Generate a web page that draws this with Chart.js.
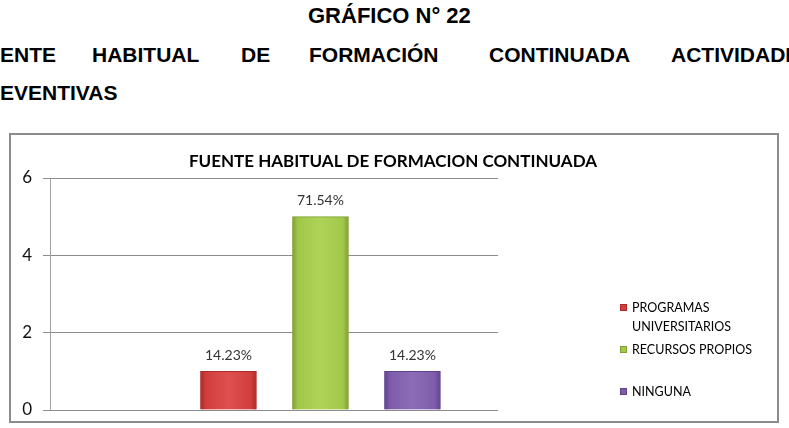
<!DOCTYPE html>
<html>
<head>
<meta charset="utf-8">
<script src="https://cdn.jsdelivr.net/npm/chart.js@4/dist/chart.umd.min.js"></script>
<style>
    html, body { margin: 0; padding: 0; background: #fff; }
    body { width: 789px; height: 428px; position: relative; overflow: hidden; }
    .hd { position: absolute; font-family: "Liberation Sans", Arial, sans-serif; font-weight: bold;
          font-size: 21px; line-height: 21px; color: #000; white-space: nowrap; }
    #box { position: absolute; left: 9px; top: 133px; width: 770px; height: 290px;
           border: 2px solid #8c8c8c; box-sizing: border-box; }
    #box canvas { display: block; }
</style>
</head>
<body>
<div class="hd" style="left:308px;top:5px;font-size:22px;line-height:22px">GRÁFICO N° 22</div>
<div class="hd" style="left:0;top:44px">ENTE</div>
<div class="hd" style="left:92px;top:44px">HABITUAL</div>
<div class="hd" style="left:241px;top:44px">DE</div>
<div class="hd" style="left:309px;top:44px">FORMACIÓN</div>
<div class="hd" style="left:489px;top:44px">CONTINUADA</div>
<div class="hd" style="left:671px;top:44px">ACTIVIDADES</div>
<div class="hd" style="left:0;top:82px">EVENTIVAS</div>

<div id="box"><canvas id="myChart" width="766" height="286"></canvas></div>

<script>
// Datos del gráfico
const categorias = ['PROGRAMAS UNIVERSITARIOS', 'RECURSOS PROPIOS', 'NINGUNA'];
const valores = [1, 5, 1];
const porcentajes = ['14.23%', '71.54%', '14.23%'];
const ticksY = [0, 2, 4, 6];
const tituloGrafico = 'FUENTE HABITUAL DE FORMACION CONTINUADA';

// Colores: base, borde oscuro, centro claro
const colores = [
    ['#d23d3d', '#a92b2b', '#df5050'],
    ['#a2c84a', '#7f9f33', '#aed358'],
    ['#7e5ca9', '#5f428b', '#8c6cb7']
];

const fuente = 'Lato, Carlito, Calibri, sans-serif';

// Degradado horizontal para simular el relieve de Excel
function degradado(i) {
    return function (ctx) {
        const chart = ctx.chart;
        const x = chart.scales && chart.scales.x;
        if (!x || !chart.chartArea) return colores[i][0];
        const cx = x.getPixelForValue(i + 1);
        const g = chart.ctx.createLinearGradient(cx - 28, 0, cx + 28, 0);
        g.addColorStop(0, colores[i][1]);
        g.addColorStop(0.1, colores[i][0]);
        g.addColorStop(0.5, colores[i][2]);
        g.addColorStop(0.9, colores[i][0]);
        g.addColorStop(1, colores[i][1]);
        return g;
    };
}

// Título, etiquetas de porcentaje y leyenda dibujados a mano
const extras = {
    id: 'extras',
    afterDatasetsDraw(chart) {
        const c = chart.ctx;
        c.save();
        // título
        c.fillStyle = '#000';
        c.font = 'bold 17px ' + fuente;
        c.textAlign = 'center';
        c.textBaseline = 'middle';
        c.fillText(tituloGrafico, 382, 27);

        // etiquetas sobre las barras
        c.font = '14px ' + fuente;
        c.fillStyle = '#333';
        chart.data.datasets.forEach(function (ds, i) {
            const bar = chart.getDatasetMeta(i).data[0];
            c.fillText(porcentajes[i], bar.x, bar.y - 16);
        });

        // leyenda
        c.textAlign = 'left';
        c.font = '12.5px ' + fuente;
        categorias.forEach(function (nombre, i) {
            const y0 = 173 + 42 * i;
            c.fillStyle = colores[i][0];
            c.fillRect(609, y0 - 4, 7, 7);
            c.strokeStyle = colores[i][1];
            c.lineWidth = 1;
            c.strokeRect(609.5, y0 - 3.5, 6, 6);
            // partir el texto si es largo
            const palabras = nombre.split(' ');
            const lineas = [];
            let linea = '';
            palabras.forEach(function (p) {
                const prueba = linea ? linea + ' ' + p : p;
                if (c.measureText(prueba).width > 130 && linea) {
                    lineas.push(linea);
                    linea = p;
                } else {
                    linea = prueba;
                }
            });
            lineas.push(linea);
            c.fillStyle = '#000';
            lineas.forEach(function (l, k) {
                c.fillText(l, 621, y0 + 19 * k);
            });
        });
        c.restore();
    }
};

const ctx = document.getElementById('myChart').getContext('2d');

new Chart(ctx, {
    type: 'bar',
    data: {
        datasets: categorias.map(function (nombre, i) {
            return {
                label: nombre,
                data: [{ x: i + 1, y: valores[i] }],
                backgroundColor: degradado(i),
                borderColor: colores[i][1],
                borderWidth: 1,
                barThickness: 56,
                grouped: false
            };
        })
    },
    options: {
        responsive: false,
        animation: false,
        layout: { padding: { left: 0, right: 279, top: 43, bottom: 11 } },
        scales: {
            x: {
                type: 'linear',
                display: false,
                offset: false,
                min: -0.94,
                max: 3.93
            },
            y: {
                min: 0,
                max: 6,
                afterBuildTicks(scale) {
                    scale.ticks = ticksY.map(function (v) { return { value: v }; });
                },
                afterFit(scale) {
                    scale.width = 39;
                    // sin margen extra arriba/abajo por las etiquetas
                    scale.paddingTop = 0;
                    scale.paddingBottom = 0;
                },
                grid: { color: '#8c8c8c', lineWidth: 1, tickLength: 7, tickColor: '#8c8c8c' },
                border: { color: '#a0a0a0', width: 1 },
                ticks: {
                    color: '#111',
                    padding: 11,
                    font: { family: fuente, size: 17 }
                }
            }
        },
        plugins: {
            legend: { display: false },
            tooltip: { enabled: false }
        }
    },
    plugins: [extras]
});
</script>
</body>
</html>
